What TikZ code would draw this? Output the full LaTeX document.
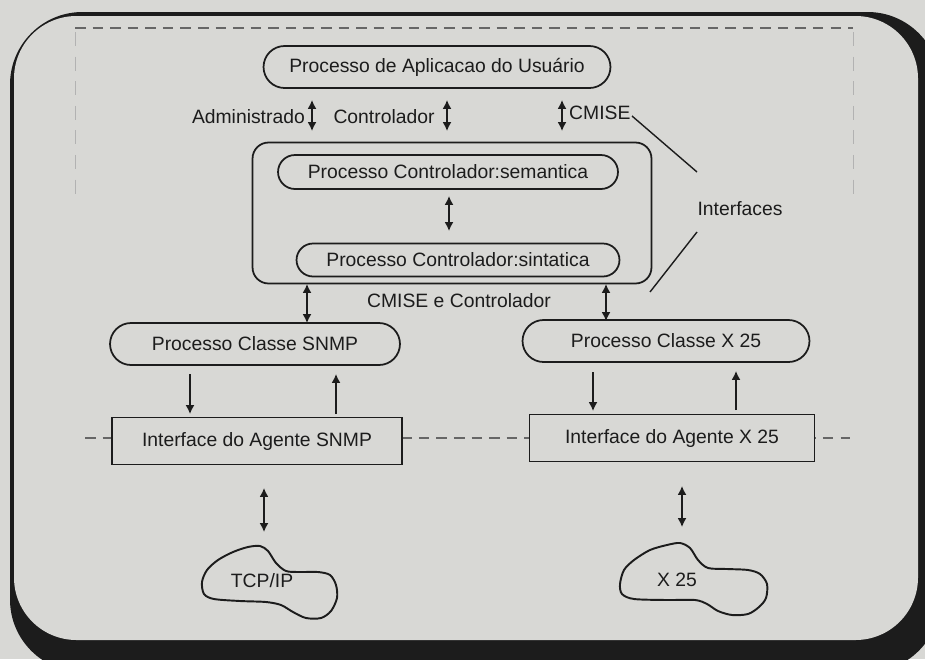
\documentclass[tikz,border=0pt]{standalone}
\usepackage{fontspec}
\setmainfont{Liberation Sans}
\usetikzlibrary{arrows.meta,shapes.misc}
\definecolor{paper}{RGB}{216,216,213}
\definecolor{ink}{RGB}{28,28,28}
\tikzset{
    pill/.style={rounded rectangle, draw=ink, line width=1pt, inner sep=0pt},
    agentbox/.style={rectangle, draw=ink, line width=1pt, inner sep=0pt},
    link/.style={draw=ink, line width=0.8pt},
    dashline/.style={draw=gray!80!black, line width=0.7pt, dash pattern=on 6pt off 4pt},
    cloudline/.style={draw=ink, line width=1.1pt},
}

\begin{document}
\begin{tikzpicture}[x=0.02cm, y=-0.02cm, >={Latex[length=5pt,width=5pt]},
    font=\fontsize{11}{13}\selectfont, text=ink]
    \useasboundingbox (0,0) rectangle (925,659);
    \clip (0,0) rectangle (925,659);
    \fill[paper] (0,0) rectangle (925,659);

    % Frame with shadow
    \fill[ink, rounded corners=1.45cm] (10,12) rectangle (940,672);
    \fill[paper, rounded corners=1.25cm] (14,16) rectangle (918,640);

    % Dashed borders
    \draw[dashline] (75,28) -- (853,28);
    \draw[dashline, draw=gray!60, line width=0.5pt, dash pattern=on 8pt off 6pt] (75,32) -- (75,198);
    \draw[dashline, draw=gray!60, line width=0.5pt, dash pattern=on 8pt off 6pt] (853,32) -- (853,200);
    \draw[dashline] (85,438) -- (850,438);

    % Processes
    \node[pill, minimum width=6.94cm, minimum height=0.84cm, fill=paper] (app) at (437,67) {Processo de Aplicacao do Usuário};
    \node[rectangle, draw=ink, line width=1pt, rounded corners=0.32cm, minimum width=7.98cm, minimum height=2.82cm] (ctrl) at (452,213) {};
    \node[pill, minimum width=6.8cm, minimum height=0.68cm] (sem) at (448,172) {Processo Controlador:semantica};
    \node[pill, minimum width=6.46cm, minimum height=0.66cm] (sin) at (458,260) {Processo Controlador:sintatica};
    \node[pill, minimum width=5.8cm, minimum height=0.84cm] (snmp) at (255,344) {Processo Classe SNMP};
    \node[pill, minimum width=5.74cm, minimum height=0.84cm] (xclass) at (666,341) {Processo Classe X 25};

    % Agents
    \node[agentbox, minimum width=5.8cm, minimum height=0.94cm, fill=paper] (snmpag) at (257,441) {Interface do Agente SNMP};
    \node[agentbox, minimum width=5.7cm, minimum height=0.94cm, fill=paper] (xag) at (672,438) {Interface do Agente X 25};

    % Networks
    \node (tcp) at (262,581) {TCP/IP};
    \node (xnet) at (677,580) {X 25};
    \draw[cloudline] plot[smooth cycle, tension=0.5] coordinates {
        (202,582) (207,570) (218,560) (233,552) (248,547) (260,546) (268,551)
        (276,563) (286,571) (300,572) (318,572) (330,575) (336,585) (337,598)
        (331,611) (321,618) (306,618) (293,612) (281,605) (266,602) (240,601)
        (214,599) (204,594)};
    \draw[cloudline] plot[smooth cycle, tension=0.5] coordinates {
        (620,584) (624,570) (634,560) (650,550) (667,545) (680,543) (690,548)
        (698,560) (708,568) (727,569) (748,570) (760,574) (767,584) (766,598)
        (759,607) (748,614) (732,615) (718,611) (707,604) (695,600) (667,600)
        (634,599) (622,594)};

    % Labels
    \node[anchor=east] (adm) at (311,117) {Administrado};
    \node (ctl) at (384,117) {Controlador};
    \node[anchor=west] (cmise) at (563,113) {CMISE};
    \node (intf) at (740,209) {Interfaces};
    \node (both) at (459,301) {CMISE e Controlador};

    % Arrow ends
    \coordinate (a1) at (312,100); \coordinate (b1) at (312,131);
    \coordinate (a2) at (447,100); \coordinate (b2) at (447,131);
    \coordinate (a3) at (562,100); \coordinate (b3) at (562,131);
    \coordinate (a4) at (449,196); \coordinate (b4) at (449,231);
    \coordinate (a5) at (307,284); \coordinate (b5) at (307,323);
    \coordinate (a6) at (606,284); \coordinate (b6) at (606,321);
    \coordinate (a7) at (190,374); \coordinate (b7) at (190,414);
    \coordinate (a8) at (336,414); \coordinate (b8) at (336,374);
    \coordinate (a9) at (593,372); \coordinate (b9) at (593,411);
    \coordinate (a10) at (736,410); \coordinate (b10) at (736,371);
    \coordinate (a11) at (264,488); \coordinate (b11) at (264,532);
    \coordinate (a12) at (682,486); \coordinate (b12) at (682,527);

    \foreach \i in {1,2,3,4,5,6,11,12} {
        \draw[link, <->] (a\i) -- (b\i);
    }
    \foreach \i in {7,8,9,10} {
        \draw[link, ->] (a\i) -- (b\i);
    }

    % Interface pointers
    \coordinate (p1) at (632,116);
    \coordinate (p2) at (697,172);
    \coordinate (p3) at (697,232);
    \coordinate (p4) at (650,292);
    \draw[link] (p1) -- (p2);
    \draw[link] (p3) -- (p4);
\end{tikzpicture}
\end{document}
